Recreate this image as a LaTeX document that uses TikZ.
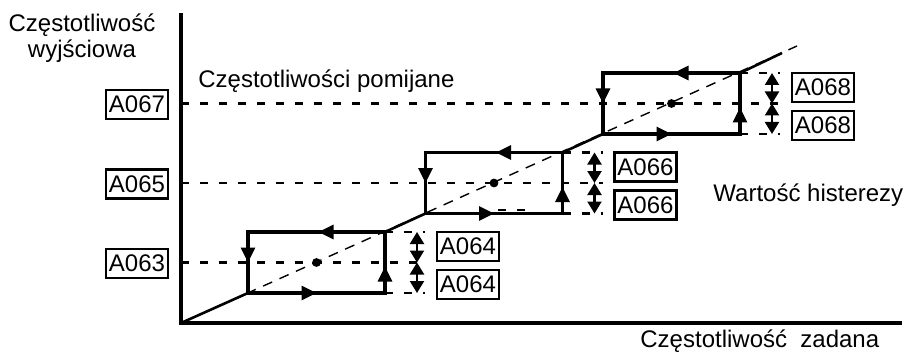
\documentclass[tikz,border=0pt]{standalone}
\usepackage{fontspec}
\setmainfont{Liberation Sans}
\usetikzlibrary{arrows.meta}
\tikzset{
  axisln/.style={line width=1.8pt},
  loopln/.style={line width=1.6pt},
  looptip/.style={line width=1.6pt,-{Triangle[length=7.5pt,width=7pt]}},
  diagln/.style={line width=1.3pt},
  diagdash/.style={line width=0.7pt,dash pattern=on 5pt off 4pt},
  levdash/.style={line width=1.1pt,dash pattern=on 4pt off 5.5pt},
  hysarr/.style={line width=1.1pt,{Triangle[length=6pt,width=7pt]}-{Triangle[length=6pt,width=7pt]}},
  codebox/.style={draw,line width=1.1pt,inner sep=0pt,minimum width=31pt,minimum height=14.5pt,font=\fontsize{12}{14}\selectfont},
  txt/.style={font=\fontsize{12}{14}\selectfont,inner sep=0pt},
}

\begin{document}
\begin{tikzpicture}[x=0.5pt,y=-0.5pt]
  \useasboundingbox (0,0) rectangle (904,353);
  \coordinate (org) at (181,323);
  \coordinate (ytop) at (181,13);
  \coordinate (xend) at (902,323);
  \coordinate (dend) at (782,53);
  \coordinate (dtip) at (797,46);
  % reference line under the loops
  \draw[diagdash] (org) -- (dtip);
  \foreach \i/\lev/\hys in {0/A063/A064,1/A065/A066,2/A067/A068}{
    \pgfmathsetmacro\xl{248+177.5*\i}
    \pgfmathsetmacro\xr{\xl+137}
    \pgfmathsetmacro\xc{\xl+68.5}
    \pgfmathsetmacro\yt{232-79.5*\i}
    \pgfmathsetmacro\yb{\yt+61}
    \pgfmathsetmacro\ym{\yt+30.5}
    \coordinate (bl\i) at (\xl,\yb);
    \coordinate (br\i) at (\xr,\yb);
    \coordinate (tr\i) at (\xr,\yt);
    \coordinate (tl\i) at (\xl,\yt);
    \coordinate (ml\i) at (181,\ym);
    \coordinate (mr\i) at (\xr+40,\ym);
    \coordinate (mc\i) at (\xc,\ym);
    \draw[levdash] (ml\i) -- (mr\i);
    \draw[levdash] (tr\i) -- ++(40,0);
    \draw[levdash] (br\i) -- ++(40,0);
    \draw[loopln] (bl\i) rectangle (tr\i);
    \draw[looptip] (tr\i) -- (\xc+2,\yt);
    \draw[looptip] (tl\i) -- (\xl,\ym);
    \draw[looptip] (bl\i) -- (\xc,\yb);
    \draw[looptip] (br\i) -- (\xr,\ym+4);
    \fill (mc\i) circle[radius=2.2pt];
    \draw[hysarr] (\xr+32,\yt) -- (\xr+32,\ym);
    \draw[hysarr] (\xr+32,\ym) -- (\xr+32,\yb);
    \node[codebox] (lev\i) at (137,\ym+1) {\lev};
    \node[codebox] (hysup\i) at (\xr+83,\ym-16) {\hys};
    \node[codebox] (hysdn\i) at (\xr+83,\ym+22) {\hys};
  }
  \draw[diagln] (org) -- (bl0);
  \draw[diagln] (tr0) -- (bl1);
  \draw[diagln] (tr1) -- (bl2);
  \draw[diagln] (tr2) -- (dend);
  \draw[levdash] (498,210) -- (530,210);
  \draw[axisln] (ytop) -- (org) -- (xend);
  \node[txt,anchor=base] (ylab1) at (82,32) {Częstotliwość};
  \node[txt,anchor=base] (ylab2) at (82,58) {wyjściowa};
  \node[txt,anchor=base west] (skip) at (198,88) {Częstotliwości pomijane};
  \node[txt,anchor=base west] (hyst) at (713,201) {Wartość histerezy};
  \node[txt,anchor=base west] (xlab) at (640,347) {Częstotliwość\ \ zadana};
\end{tikzpicture}
\end{document}
